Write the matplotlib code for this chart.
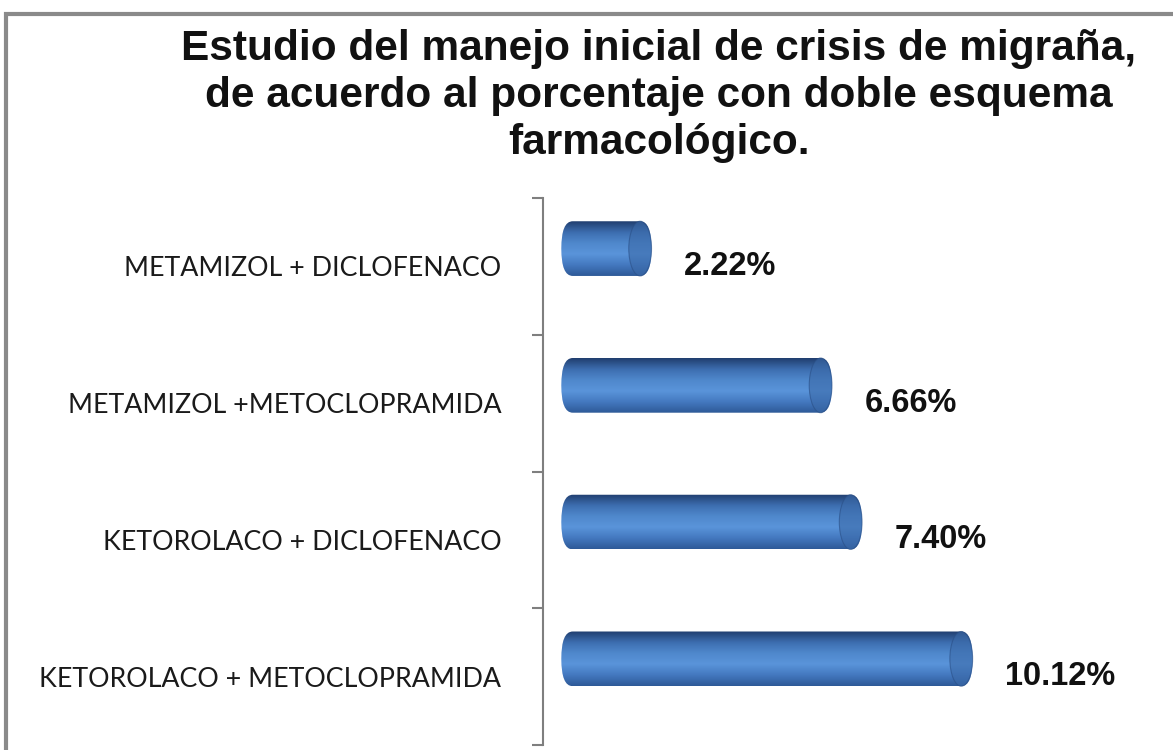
import numpy as np
import matplotlib.pyplot as plt
import matplotlib.patches as mpatches
from matplotlib.colors import LinearSegmentedColormap

# data
categorias = ['KETOROLACO + METOCLOPRAMIDA', 'KETOROLACO + DICLOFENACO',
              'METAMIZOL +METOCLOPRAMIDA', 'METAMIZOL + DICLOFENACO']
porcentajes = [10.12, 7.40, 6.66, 2.22]
etiquetas = ['10.12%', '7.40%', '6.66%', '2.22%']

fig = plt.figure(figsize=(11.73, 7.5), dpi=100)
W, H = 1173, 750

# grey chart frame
frame = mpatches.Rectangle((6 / W, -0.05), 1.2, 1 - 14 / H + 0.05, transform=fig.transFigure,
                           fill=False, edgecolor='#8a8a8a', linewidth=3, zorder=0)
fig.patches.append(frame)

ax = fig.add_axes([543 / W, 5 / H, (1173 - 543) / W, (745 - 198) / H])
ax.set_xlim(-0.45, 15.05)
ax.set_ylim(-0.5, 3.5)

grad = LinearSegmentedColormap.from_list('cyl', ['#2e5a98', '#4479c0', '#5a94da', '#4f88cc', '#3d6eb0', '#213f70'])
bar_h = 0.40
off = 0.13
r = 0.28  # end rounding in x units

for i, v in enumerate(porcentajes):
    y = i + off
    patch = mpatches.FancyBboxPatch((0, y - bar_h / 2), v, bar_h,
                                    boxstyle=mpatches.BoxStyle('Round', pad=0, rounding_size=r),
                                    mutation_aspect=(bar_h / 2) / r,
                                    facecolor='none', edgecolor='none', zorder=2)
    ax.add_patch(patch)
    g = np.linspace(0, 1, 64).reshape(-1, 1)
    im = ax.imshow(g, cmap=grad, aspect='auto', extent=(0, v, y + bar_h / 2, y - bar_h / 2),
                   zorder=2, interpolation='bilinear')
    im.set_clip_path(patch)
    cap = mpatches.Ellipse((v - r, y), 2 * r, bar_h, facecolor='#3b6aa9', edgecolor='#2a4f86',
                           linewidth=0.8, alpha=0.6, zorder=3)
    ax.add_patch(cap)
    ax.text(v + 0.8, i, etiquetas[i], ha='left', va='center', fontsize=23.5,
            fontweight='bold', family='Liberation Sans', color='#111111')

ax.set_yticks(range(len(categorias)))
ax.set_yticklabels(categorias, fontsize=19.3, family='Lato', color='#1a1a1a')
ax.set_yticks(np.arange(-0.5, 3.6, 1), minor=True)
ax.tick_params(axis='y', which='major', length=0, pad=30)
ax.tick_params(axis='y', which='minor', length=8, width=1.5, color='#7f7f7f')
ax.set_xticks([])
for s in ['top', 'right', 'bottom']:
    ax.spines[s].set_visible(False)
ax.spines['left'].set_color('#7f7f7f')
ax.spines['left'].set_linewidth(1.5)
ax.patch.set_alpha(0)

fig.text(659 / W, 1 - 96 / H,
         'Estudio del manejo inicial de crisis de migraña,\nde acuerdo al porcentaje con doble esquema\nfarmacológico.',
         ha='center', va='center', fontsize=30.5, fontweight='bold', family='Liberation Sans',
         linespacing=1.22, color='#111111')

fig.savefig('out.png', dpi=100)
